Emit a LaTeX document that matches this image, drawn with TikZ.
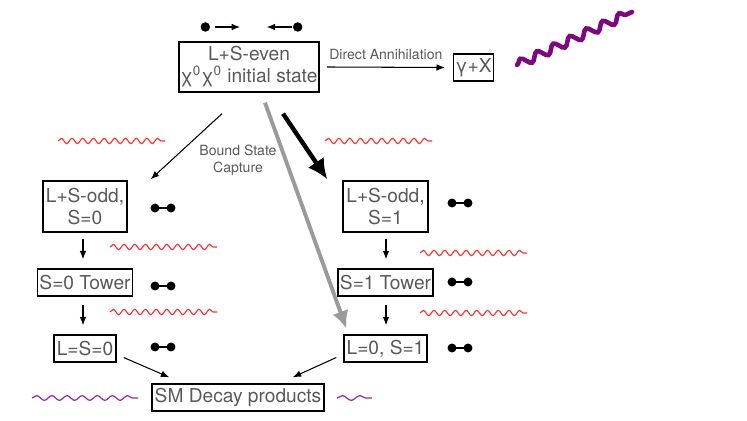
\documentclass[tikz,border=0pt]{standalone}
\usepackage{fontspec}
\setmainfont{TeX Gyre Heros}
\usetikzlibrary{arrows.meta,calc,decorations.pathmorphing}
\definecolor{BSText}{HTML}{595959}
\definecolor{BSGrey}{HTML}{9A9A9A}
\definecolor{BSRed}{HTML}{FF3030}
\definecolor{BSPurple}{HTML}{9C2AA0}
\definecolor{BSViolet}{HTML}{7E0680}

\begin{document}
\begin{tikzpicture}[x=0.02cm,y=-0.02cm,
  state/.style={draw=black,line width=0.8pt,text=BSText,align=center,inner sep=1pt,font=\fontsize{10.9}{12.5}\selectfont},
  note/.style={text=BSText,align=center,inner sep=0pt,font=\fontsize{8}{9.7}\selectfont},
  thin arrow/.style={line width=0.6pt,-{Latex[length=4.8pt,width=3.8pt]}},
  redwave/.style={BSRed,line width=0.65pt,decorate,decoration={snake,segment length=6.09pt,amplitude=1.5pt}},
  photon/.style={BSPurple,line width=0.7pt,decorate,decoration={snake,segment length=8.62pt,amplitude=1.35pt}}]
\path[use as bounding box] (0,0) rectangle (747,421);
% states
\node[state,minimum width=2.68cm,minimum height=1cm] (init) at (249,67) {L+S-even\\χ\textsuperscript{0}χ\textsuperscript{0} initial state};
\node[state,minimum width=0.74cm,minimum height=0.54cm] (gx) at (473.5,67.5) {γ+X};
\node[state,minimum width=1.68cm,minimum height=1.02cm] (odd0) at (85,206.5) {L+S-odd,\\S=0};
\node[state,minimum width=1.70cm,minimum height=1.02cm] (odd1) at (385.5,206.5) {L+S-odd,\\S=1};
\node[state,minimum width=1.88cm,minimum height=0.54cm] (tow0) at (85,282.5) {S=0 Tower};
\node[state,minimum width=1.90cm,minimum height=0.54cm] (tow1) at (385.5,282.5) {S=1 Tower};
\node[state,minimum width=1.24cm,minimum height=0.54cm] (ls0) at (85,348.5) {L=S=0};
\node[state,minimum width=1.66cm,minimum height=0.54cm] (l0s1) at (385.5,348.5) {L=0, S=1};
\node[state,minimum width=3.44cm,minimum height=0.54cm] (sm) at (238,397.5) {SM Decay products};
\node[note] (capture) at (238,160) {Bound State\\Capture};
% incoming pair
\fill (205.3,27) circle (2.7pt);
\draw[thin arrow] (215,27) -- (240,27);
\fill (297.7,27) circle (2.7pt);
\draw[thin arrow] (291.7,27) -- (266.7,27);
% transitions
\draw[thin arrow] ($(init.east)+(7,0)$) -- ($(gx.west)+(-8,0)$) node[note,midway,above=4pt] (direct) {Direct Annihilation};
\draw[thin arrow] ($(init.south)+(-27,21)$) -- ($(odd0.north east)+(23,-1)$);
\draw[line width=2.5pt,-{Latex[length=11.5pt,width=11pt]}] ($(init.south)+(34,21)$) -- ($(odd1.north west)+(-15,-1)$);
\draw[BSGrey,line width=2.2pt,-{Latex[length=9.8pt,width=9.4pt]}] ($(init.south)+(16,10)$) -- ($(l0s1.north west)+(3,-6)$);
\draw[thin arrow] ($(odd0.south)+(-2,6)$) -- ($(tow0.north)+(-2,-9)$);
\draw[thin arrow] ($(tow0.south)+(-2,8)$) -- ($(ls0.north)+(-2,-9)$);
\draw[thin arrow] ($(odd1.south)+(0.5,6)$) -- ($(tow1.north)+(0.5,-9)$);
\draw[thin arrow] ($(tow1.south)+(0.5,8)$) -- ($(l0s1.north)+(0.5,-9)$);
\draw[thin arrow] ($(ls0.east)+(7,9)$) -- ($(sm.north west)+(18,-6)$);
\draw[thin arrow] ($(l0s1.west)+(-7,9)$) -- ($(sm.north east)+(-32,-6)$);
% bound pairs
\foreach \x/\y in {155/208,155/286,155/347,452/203,452/282,452/348}{
  \draw[line width=1.3pt] (\x,\y) -- ++(16,0);
  \fill (\x,\y) circle (2.55pt);
  \fill (\x+16,\y) circle (2.55pt);
}
% emitted photons
\foreach \x/\y in {58/141,325/141,110/247,110/312,420/253,420/313}
  \draw[redwave] (\x,\y) -- ++(107,0);
\draw[photon] (32,398) -- (138,398);
\draw[photon,decoration={segment length=9.96pt}] (337,398) -- (372,398);
\draw[BSViolet,line width=2.6pt,line cap=round,decorate,decoration={snake,segment length=10.3pt,amplitude=2.4pt}] (517,65) -- (632,12);
\end{tikzpicture}
\end{document}
